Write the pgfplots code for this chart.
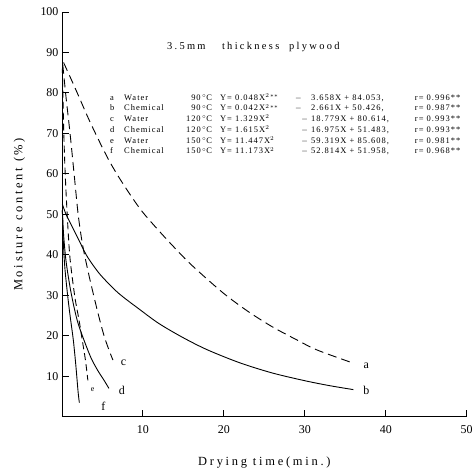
\documentclass[border=0pt]{standalone}
\usepackage{fontspec}
\setmainfont{Liberation Serif}
\usepackage{pgfplots}
\pgfplotsset{compat=1.18}

% one row of the regression table
\newcommand\eqrow[6]{\makebox[14bp][l]{#1}\makebox[59bp][l]{#2}\makebox[29bp][r]{#3}\hspace{8bp}\makebox[15bp][l]{Y=}\makebox[60bp][l]{#4}\makebox[120bp][l]{#5}r= #6}

\begin{document}
\begin{tikzpicture}
\begin{axis}[
  name=ax,
  scale only axis,
  width=405bp, height=405bp,
  xmin=0, xmax=50, ymin=0, ymax=100,
  xtick={10,20,...,50}, ytick={10,20,...,100},
  axis lines=left,
  axis line style={-, line width=0.9pt},
  tick align=inside,
  major tick length=7bp,
  tick style={line width=0.9pt, black},
  tick label style={font=\fontsize{12}{14}\selectfont},
  xticklabel style={yshift=-5bp},
  /pgf/number format/assume math mode=true,
  xlabel={Drying time(min.)},
  ylabel={Moisture content (\%)},
  label style={font=\fontsize{12.5}{14}\selectfont\addfontfeatures{LetterSpace=22}},
  xlabel style={at={(axis description cs:0.5,-0.114)}, anchor=center},
  ylabel style={at={(axis description cs:-0.105,0.5)}, anchor=center},
  every axis plot/.append style={black, line width=0.9pt, smooth, no marks},
  clip=false
]
% a  Water 90C
\addplot[black, dash pattern=on 9bp off 5bp] coordinates {(0.2,87.5) (1,84) (2,79.5) (3.2,74) (4.5,68.5) (5.9,63) (7.4,58) (9.6,51.5) (11.5,47) (13.7,42.2) (16,37.5) (19.9,30.6) (23,26) (26,22.2) (29,19) (31.5,16.5) (35.9,13.3)};
% b  Chemical 90C
\addplot[black, solid] coordinates {(0.05,52.5) (0.5,50) (1,48) (2,44) (3,40) (4,37) (5,34.5) (7,30.5) (9.6,26.5) (12,23) (15,19.5) (18,16.5) (22,13.3) (26,10.8) (30,8.9) (33,7.7) (36,6.7)};
% c  Water 120C
\addplot[black, dash pattern=on 9bp off 5bp] coordinates {(0.1,87) (0.5,79) (1,70) (1.5,60) (2,50) (2.5,43) (3,38) (3.5,33.5) (4.4,26) (5.2,20) (5.9,16) (6.3,14)};
% d  Chemical 120C
\addplot[black, solid] coordinates {(0.05,51) (0.2,45) (0.5,38.5) (1,32) (1.5,27) (2,23) (2.8,18.5) (3.6,14.5) (4.4,11.5) (5.2,9) (5.8,7)};
% e  Water 150C
\addplot[black, dash pattern=on 7bp off 4bp] coordinates {(0.05,86) (0.2,72) (0.4,60) (0.7,48) (1,39) (1.6,29.5) (2.1,24) (2.5,19) (2.9,14) (3.2,9)};
% f  Chemical 150C
\addplot[black, solid] coordinates {(0.05,51) (0.15,44) (0.35,37) (0.7,30) (1,25) (1.4,19) (1.7,13) (2,6) (2.15,3.5)};

\node[font=\fontsize{12}{14}\selectfont] at (axis cs:37.6,12.6) {a};
\node[font=\fontsize{12}{14}\selectfont] at (axis cs:37.6,6.5) {b};
\node[font=\fontsize{12}{14}\selectfont] at (axis cs:7.6,13.3) {c};
\node[font=\fontsize{12}{14}\selectfont] at (axis cs:7.4,6.4) {d};
\node[font=\fontsize{8}{10}\selectfont] at (axis cs:3.8,6.7) {e};
\node[font=\fontsize{12}{14}\selectfont] at (axis cs:5.1,2.6) {f};

\node[anchor=west, inner sep=0pt, font=\fontsize{10.5}{12}\selectfont\addfontfeatures{LetterSpace=22}] at (axis cs:12.96,91.4) {\makebox[55bp][l]{3.5mm}thickness\ \ plywood};
\node[anchor=north west, inner sep=0pt, align=left, font=\fontsize{8.5}{10.8}\selectfont\addfontfeatures{LetterSpace=12}] at (axis cs:5.93,79.9) {%
\eqrow{a}{Water}{90\,$^{\circ}$C}{0.048X$^{2\,**}$}{$-$\ \ \ 3.658X + 84.053,}{0.996**}\\
\eqrow{b}{Chemical}{90\,$^{\circ}$C}{0.042X$^{2\,**}$}{$-$\ \ \ 2.661X + 50.426,}{0.987**}\\
\eqrow{c}{Water}{120\,$^{\circ}$C}{1.329X$^{2}$}{\ \ $-$ 18.779X + 80.614,}{0.993**}\\
\eqrow{d}{Chemical}{120\,$^{\circ}$C}{1.615X$^{2}$}{\ \ $-$ 16.975X + 51.483,}{0.993**}\\
\eqrow{e}{Water}{150\,$^{\circ}$C}{11.447X$^{2}$}{\ \ $-$ 59.319X + 85.608,}{0.981**}\\
\eqrow{f}{Chemical}{150\,$^{\circ}$C}{11.173X$^{2}$}{\ \ $-$ 52.814X + 51.958,}{0.968**}};
\end{axis}
% fix the page to the reference's frame
\path ([xshift=-62bp,yshift=-55bp]ax.south west) rectangle ([xshift=414bp,yshift=417bp]ax.south west);
\end{tikzpicture}
\end{document}
